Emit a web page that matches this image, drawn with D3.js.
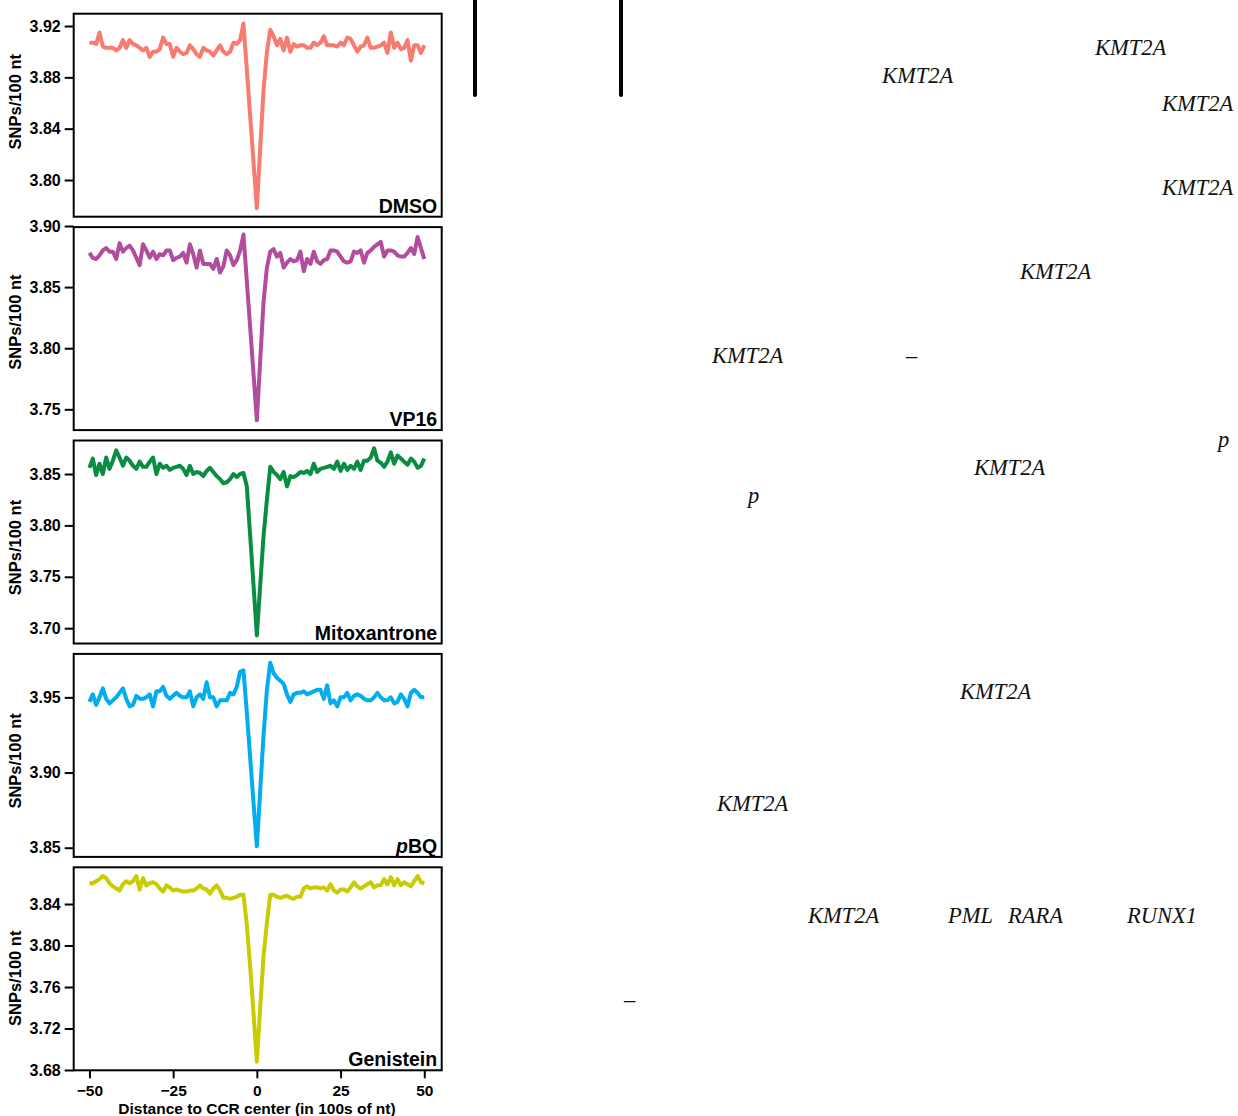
<!DOCTYPE html>
<html>
<head>
<meta charset="utf-8">
<script src="https://cdn.jsdelivr.net/npm/d3@7"></script>
<style>
  body { margin: 0; background: #fff; }
  .tick text { font-family: "Liberation Sans", Arial, sans-serif; font-weight: bold; }
</style>
</head>
<body>
<svg id="chart" width="1238" height="1116"></svg>
<script>
// distance to CCR center, in 100s of nt
var distance = d3.range(-50, 51);

var treatments = ["DMSO", "VP16", "Mitoxantrone", "pBQ", "Genistein"];
var colors = ["#F97A6E", "#B24C9E", "#0A8C42", "#00AEEF", "#C8CC00"];

var dmso = [3.907,3.907,3.906,3.915,3.904,3.903,3.903,3.903,3.901,3.903,
  3.909,3.903,3.909,3.906,3.905,3.903,3.901,3.903,3.896,3.900,
  3.900,3.902,3.911,3.906,3.906,3.896,3.903,3.900,3.898,3.899,
  3.905,3.902,3.898,3.896,3.903,3.901,3.900,3.897,3.901,3.905,
  3.900,3.898,3.900,3.907,3.906,3.909,3.922,3.886,3.850,3.814,
  3.778,
  3.825,3.870,3.900,3.917,3.912,3.905,3.910,3.901,3.911,3.900,
  3.906,3.904,3.905,3.905,3.903,3.903,3.907,3.905,3.907,3.912,
  3.905,3.905,3.905,3.904,3.907,3.905,3.911,3.910,3.905,3.900,
  3.904,3.905,3.911,3.903,3.903,3.904,3.905,3.907,3.899,3.915,
  3.903,3.907,3.902,3.903,3.909,3.893,3.905,3.905,3.899,3.905];

var vp16 = [3.878,3.874,3.873,3.876,3.880,3.882,3.879,3.879,3.873,3.886,
  3.879,3.882,3.884,3.880,3.874,3.868,3.885,3.880,3.874,3.879,
  3.873,3.877,3.876,3.880,3.880,3.872,3.874,3.875,3.878,3.870,
  3.885,3.877,3.866,3.880,3.869,3.869,3.869,3.865,3.873,3.862,
  3.867,3.880,3.876,3.868,3.872,3.880,3.893,3.855,3.817,3.779,
  3.741,
  3.790,3.838,3.866,3.879,3.881,3.875,3.878,3.866,3.870,3.873,
  3.871,3.872,3.879,3.863,3.873,3.869,3.879,3.871,3.869,3.872,
  3.873,3.880,3.880,3.879,3.875,3.871,3.870,3.871,3.879,3.878,
  3.880,3.870,3.878,3.880,3.883,3.885,3.887,3.875,3.880,3.880,
  3.879,3.876,3.875,3.875,3.878,3.882,3.877,3.891,3.882,3.873];

var mitoxantrone = [3.856,3.865,3.849,3.860,3.850,3.866,3.855,3.863,3.873,3.866,
  3.858,3.866,3.863,3.858,3.855,3.862,3.857,3.857,3.862,3.866,
  3.850,3.860,3.856,3.858,3.854,3.856,3.857,3.858,3.855,3.849,
  3.858,3.850,3.852,3.851,3.848,3.853,3.856,3.852,3.848,3.845,
  3.841,3.842,3.845,3.850,3.847,3.850,3.851,3.838,3.790,3.742,
  3.693,
  3.742,3.790,3.825,3.857,3.852,3.849,3.845,3.852,3.838,3.848,
  3.847,3.849,3.852,3.851,3.853,3.850,3.860,3.852,3.855,3.856,
  3.857,3.858,3.855,3.862,3.853,3.860,3.854,3.858,3.855,3.862,
  3.854,3.863,3.863,3.866,3.875,3.863,3.861,3.857,3.862,3.871,
  3.860,3.868,3.865,3.862,3.859,3.865,3.862,3.856,3.858,3.865];

var pbq = [3.947,3.952,3.945,3.950,3.956,3.949,3.946,3.948,3.950,3.953,
  3.956,3.949,3.944,3.945,3.951,3.949,3.949,3.950,3.952,3.944,
  3.954,3.954,3.957,3.951,3.949,3.951,3.953,3.951,3.950,3.950,
  3.954,3.944,3.950,3.952,3.949,3.960,3.950,3.950,3.944,3.948,
  3.948,3.948,3.953,3.952,3.957,3.967,3.968,3.940,3.910,3.880,
  3.851,
  3.888,3.925,3.955,3.973,3.966,3.963,3.961,3.959,3.952,3.947,
  3.952,3.953,3.953,3.954,3.952,3.953,3.954,3.955,3.955,3.949,
  3.958,3.946,3.948,3.944,3.950,3.950,3.953,3.948,3.951,3.952,
  3.951,3.949,3.948,3.948,3.950,3.953,3.950,3.948,3.948,3.950,
  3.946,3.947,3.952,3.949,3.944,3.953,3.955,3.953,3.950,3.950];

var genistein = [3.860,3.860,3.862,3.864,3.867,3.865,3.860,3.857,3.855,3.853,
  3.859,3.862,3.860,3.862,3.867,3.854,3.865,3.858,3.860,3.861,
  3.859,3.855,3.852,3.858,3.856,3.853,3.854,3.853,3.852,3.852,
  3.853,3.853,3.855,3.858,3.855,3.854,3.850,3.855,3.858,3.853,
  3.846,3.846,3.845,3.846,3.847,3.849,3.849,3.820,3.780,3.735,
  3.688,
  3.740,3.790,3.822,3.849,3.849,3.847,3.846,3.847,3.848,3.846,
  3.845,3.847,3.847,3.855,3.857,3.855,3.856,3.856,3.855,3.856,
  3.853,3.859,3.853,3.851,3.854,3.854,3.852,3.856,3.861,3.857,
  3.855,3.857,3.859,3.861,3.856,3.858,3.858,3.864,3.859,3.866,
  3.858,3.864,3.858,3.861,3.859,3.857,3.862,3.867,3.861,3.860];

var series = [dmso, vp16, mitoxantrone, pbq, genistein];

var yDomains = [[3.7714, 3.9296], [3.733, 3.8991], [3.6851, 3.8826], [3.8439, 3.9789], [3.6797, 3.8754]];
var yTicks = [[3.80, 3.84, 3.88, 3.92], [3.75, 3.80, 3.85, 3.90], [3.70, 3.75, 3.80, 3.85], [3.85, 3.90, 3.95], [3.68, 3.72, 3.76, 3.80, 3.84]];
var xTicks = [-50, -25, 0, 25, 50];

var yTitle = "SNPs/100 nt";
var xTitle = "Distance to CCR center (in 100s of nt)";

var svg = d3.select("#chart");
svg.append("rect").attr("width", 1238).attr("height", 1116).attr("fill", "#fff");

var left = 73.7, width = 368, top0 = 13.7, step = 213.4, height = 203;
var font = "'Liberation Sans', Arial, sans-serif";
var titleOffsets = [88, 95, 107, 107, 111];

var x = d3.scaleLinear().domain([-54.7, 55.2]).range([left, left + width]);

treatments.forEach(function(name, i) {
    var top = top0 + i * step;
    var y = d3.scaleLinear().domain(yDomains[i]).range([top + height, top]);
    var g = svg.append("g");

    var line = d3.line()
        .x(function(d, j) { return x(distance[j]); })
        .y(function(d) { return y(d); });

    g.append("path")
        .datum(series[i])
        .attr("d", line)
        .attr("fill", "none")
        .attr("stroke", colors[i])
        .attr("stroke-width", 4)
        .attr("stroke-linejoin", "round");

    g.append("rect")
        .attr("x", left).attr("y", top)
        .attr("width", width).attr("height", height)
        .attr("fill", "none").attr("stroke", "#000").attr("stroke-width", 2);

    var ax = g.append("g")
        .attr("transform", "translate(" + left + ",0)")
        .call(d3.axisLeft(y).tickValues(yTicks[i]).tickFormat(d3.format(".2f")).tickSize(9).tickPadding(4));
    ax.select(".domain").remove();
    ax.selectAll("line").attr("stroke-width", 2);
    ax.selectAll("text").style("font-size", "16px").attr("fill", "#000");

    svg.append("text")
        .attr("transform", "translate(21," + (top + titleOffsets[i]) + ") rotate(-90)")
        .attr("text-anchor", "middle")
        .style("font", "bold 16.5px " + font)
        .text(yTitle);

    var lab = svg.append("text")
        .attr("x", left + width - 4.5)
        .attr("y", top + height - 4)
        .attr("text-anchor", "end")
        .style("font", "bold 19.5px " + font);
    if (name == "pBQ") {
        lab.append("tspan").style("font-style", "italic").text("p");
        lab.append("tspan").text("BQ");
    } else {
        lab.text(name);
    }

    if (i == treatments.length - 1) {
        var xa = svg.append("g")
            .attr("transform", "translate(0," + (top + height) + ")")
            .call(d3.axisBottom(x).tickValues(xTicks).tickSize(8).tickPadding(7));
        xa.select(".domain").remove();
        xa.selectAll("line").attr("stroke-width", 2);
        xa.selectAll("text").style("font-size", "15.5px").attr("fill", "#000");

        svg.append("text")
            .attr("x", 257).attr("y", 1114)
            .attr("text-anchor", "middle")
            .style("font", "bold 15.5px " + font)
            .text(xTitle);
    }
});

// stray page content to the right of the figure
var bars = [475, 621];
bars.forEach(function(bx) {
    svg.append("line")
        .attr("x1", bx).attr("x2", bx).attr("y1", -4).attr("y2", 95)
        .attr("stroke", "#000").attr("stroke-width", 4).attr("stroke-linecap", "round");
});

var pageNotes = [
    ["KMT2A", 1095, 55], ["KMT2A", 882, 83], ["KMT2A", 1162, 111], ["KMT2A", 1162, 195],
    ["KMT2A", 1020, 279], ["KMT2A", 712, 363], ["\u2013", 906, 363], ["p", 1218, 447],
    ["KMT2A", 974, 475], ["p", 748, 503], ["KMT2A", 960, 699], ["KMT2A", 717, 811],
    ["KMT2A", 808, 923], ["PML", 948, 923], ["RARA", 1008, 923], ["RUNX1", 1127, 923],
    ["\u2013", 624, 1007]
];
svg.selectAll(".note")
    .data(pageNotes)
    .enter().append("text")
    .attr("class", "note")
    .attr("x", function(d) { return d[1]; })
    .attr("y", function(d) { return d[2]; })
    .style("font", "italic 22.5px 'Liberation Serif', 'DejaVu Serif', serif")
    .attr("fill", "#111")
    .text(function(d) { return d[0]; });
</script>
</body>
</html>
